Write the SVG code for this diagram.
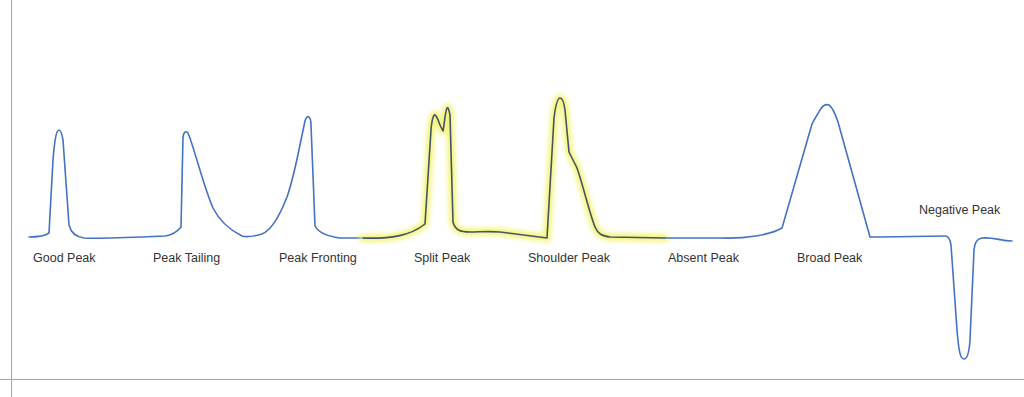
<svg xmlns="http://www.w3.org/2000/svg" width="1024" height="397" viewBox="0 0 1024 397">
<style>
.axis{stroke:#8EA5DA;stroke-width:1;fill:none}
.curve{stroke:#4472C4;stroke-width:1.6;fill:none;stroke-linejoin:round;stroke-linecap:round}
.hl{stroke:#44546A;stroke-width:1.6;fill:none;stroke-linejoin:round;stroke-linecap:round}
.glow{stroke:#F2F25A;stroke-width:8;fill:none;stroke-linejoin:round;stroke-linecap:round;opacity:0.75}
.lbl{font-family:"Liberation Sans",Arial,sans-serif;font-size:12.5px;fill:#333333}
</style>
<defs>
<filter id="blur" x="-10%" y="-10%" width="120%" height="120%"><feGaussianBlur stdDeviation="2.2"/></filter>
</defs>
<rect width="1024" height="397" fill="#ffffff"/>
<g id="axes">
<line class="axis" x1="11.5" y1="0" x2="11.5" y2="397"/>
<line class="axis" x1="0" y1="379.5" x2="1024" y2="379.5"/>
</g>
<g id="connectors">
<path class="curve" d="M29,237 C38,237 45,236 49,233 L53,160 C55,135 57,130 59,130 C61,130 62,134 63,140 L69,225 C71,233 76,237 84,238 C100,239 140,237 165,236 C172,235 177,232 181,227 L183,137 C184,131 186,131 188,133 C195,150 203,185 213,208 C220,222 230,230 242,236 C248,238 254,236 262,234 C272,230 280,215 287,197 C293,180 298,155 301,140 L305,121 C306,117 308,116 309,117 C310,118 311,121 311,125 L315,226 C318,232 325,236 340,238 L363,238"/>
<path class="glow" filter="url(#blur)" d="M363,238 C390,239 410,236 425,224 L431,130 C432,118 434,114 435,115 C437,116 438,120 440,125 L443,131 C444,128 445,112 447,108 C448,107 449,110 450,115 L453,222 C455,230 460,232 470,232 C480,232 490,231 500,232 L547,238 L554,118 C556,102 558,98 560,98 C562,98 564,102 565,110 L569,152 L577,168 C583,185 590,215 595,227 C598,234 602,236 610,237 L665,238"/>
<path class="hl" d="M363,238 C390,239 410,236 425,224 L431,130 C432,118 434,114 435,115 C437,116 438,120 440,125 L443,131 C444,128 445,112 447,108 C448,107 449,110 450,115 L453,222 C455,230 460,232 470,232 C480,232 490,231 500,232 L547,238 L554,118 C556,102 558,98 560,98 C562,98 564,102 565,110 L569,152 L577,168 C583,185 590,215 595,227 C598,234 602,236 610,237 L665,238"/>
<path class="curve" d="M665,238 L720,238 C745,239 770,235 782,228 L812,124 C816,116 818,114 820,110 C823,105 826,104 829,105 C832,107 835,113 838,122 L870,237 L880,237 L945,236 C948,236 950,238 951,245 L957,330 C959,355 961,359 964,359 C967,359 969,355 970,340 L974,250 C975,242 977,239 982,238 C995,237 1000,241 1012,241"/>
</g>
<g id="good-peak"><text class="lbl" x="33" y="262">Good Peak</text></g>
<g id="peak-tailing"><text class="lbl" x="153" y="262">Peak Tailing</text></g>
<g id="peak-fronting"><text class="lbl" x="279" y="262">Peak Fronting</text></g>
<g id="split-peak"><text class="lbl" x="414" y="262">Split Peak</text></g>
<g id="shoulder-peak"><text class="lbl" x="528" y="262">Shoulder Peak</text></g>
<g id="absent-peak"><text class="lbl" x="668" y="262">Absent Peak</text></g>
<g id="broad-peak"><text class="lbl" x="797" y="262">Broad Peak</text></g>
<g id="negative-peak"><text class="lbl" x="919" y="214">Negative Peak</text></g>
</svg>
